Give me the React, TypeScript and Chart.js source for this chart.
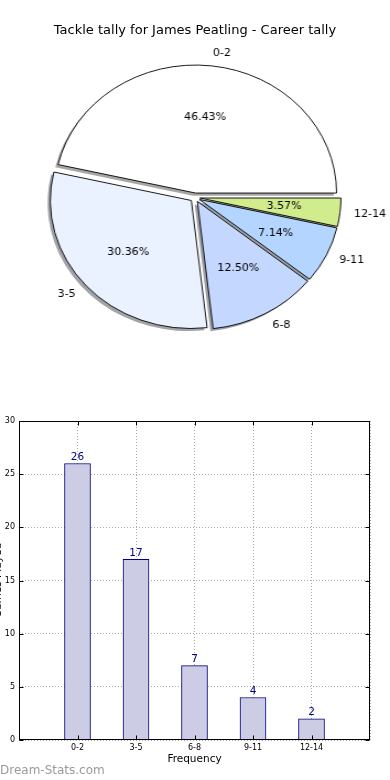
import React, { useEffect, useRef } from 'react';
import { Chart, registerables } from 'chart.js';

Chart.register(...registerables);

// ---- data ----
const categories = ['0-2', '3-5', '6-8', '9-11', '12-14'];
const counts = [26, 17, 7, 4, 2];
const pieColors = ['#ffffff', '#eaf1ff', '#c4d8ff', '#b4d5ff', '#d0ec8c'];
const explode = [0.035, 0.035, 0.035, 0.035, 0.035];
const yTicks = [0, 5, 10, 15, 20, 25, 30];
const chartTitle = 'Tackle tally for James Peatling - Career tally';
const xTitle = 'Frequency';
const yTitle = 'Games Played';
const watermark = 'Dream-Stats.com';

// ---- layout constants ----
const FONT = '"DejaVu Sans", "Liberation Sans", sans-serif';
const PIE_CSS_W = 390;
const PIE_INT_W = 354;
const PIE_H = 360;
const SX = PIE_CSS_W / PIE_INT_W;
const PIE_R = 128;

const rev = <T,>(a: T[]): T[] => a.slice().reverse();

function shadowOf(hex: string): string {
  const n = parseInt(hex.slice(1), 16);
  const r = Math.round(((n >> 16) & 255) * 0.3);
  const g = Math.round(((n >> 8) & 255) * 0.3);
  const b = Math.round((n & 255) * 0.3);
  return `rgba(${r},${g},${b},0.5)`;
}

export default function App() {
  const pieRef = useRef<HTMLCanvasElement | null>(null);
  const barRef = useRef<HTMLCanvasElement | null>(null);

  useEffect(() => {
    const pieLabels = rev(categories);
    const pieData = rev(counts);
    const pieBg = rev(pieColors);
    const pieExplode = rev(explode);
    const total = counts.reduce((a, b) => a + b, 0);

    const piePlugin = {
      id: 'pieExtras',
      afterDatasetsUpdate(chart: any) {
        const meta = chart.getDatasetMeta(0);
        meta.data.forEach((arc: any, i: number) => {
          const mid = (arc.startAngle + arc.endAngle) / 2;
          const d = pieExplode[i] * arc.outerRadius;
          arc.x += Math.cos(mid) * d;
          arc.y += Math.sin(mid) * d;
        });
      },
      beforeDatasetsDraw(chart: any) {
        const ctx = chart.ctx;
        const meta = chart.getDatasetMeta(0);
        ctx.save();
        meta.data.forEach((arc: any, i: number) => {
          const x = arc.x - 2.5;
          const y = arc.y + 2.6;
          ctx.beginPath();
          ctx.moveTo(x, y);
          ctx.arc(x, y, arc.outerRadius, arc.startAngle, arc.endAngle);
          ctx.closePath();
          ctx.fillStyle = shadowOf(pieBg[i]);
          ctx.fill();
        });
        ctx.restore();
      },
      afterDatasetsDraw(chart: any) {
        const ctx = chart.ctx;
        const meta = chart.getDatasetMeta(0);
        const drawText = (t: string, x: number, y: number, align: CanvasTextAlign) => {
          ctx.save();
          ctx.translate(x, y);
          ctx.scale(1 / SX, 1);
          ctx.font = `11px ${FONT}`;
          ctx.fillStyle = '#000';
          ctx.textAlign = align;
          ctx.textBaseline = 'middle';
          ctx.fillText(t, 0, 0);
          ctx.restore();
        };
        meta.data.forEach((arc: any, i: number) => {
          const mid = (arc.startAngle + arc.endAngle) / 2;
          const r = arc.outerRadius;
          const c = Math.cos(mid);
          const s = Math.sin(mid);
          drawText(pieLabels[i], arc.x + 1.1 * r * c, arc.y + 1.1 * r * s, c > 0 ? 'left' : 'right');
          const pct = ((pieData[i] / total) * 100).toFixed(2) + '%';
          drawText(pct, arc.x + 0.6 * r * c, arc.y + 0.6 * r * s, 'center');
        });
      },
    };

    const pie = new Chart(pieRef.current as HTMLCanvasElement, {
      type: 'pie',
      data: {
        labels: pieLabels,
        datasets: [
          {
            data: pieData,
            backgroundColor: pieBg,
            borderColor: '#000',
            borderWidth: 0.9,
            borderJoinStyle: 'miter',
          } as any,
        ],
      },
      options: {
        responsive: false,
        animation: false,
        devicePixelRatio: 1,
        rotation: 90,
        radius: PIE_R,
        layout: { padding: { top: 70, bottom: 35, left: 0, right: 0 } },
        plugins: { legend: { display: false }, tooltip: { enabled: false }, title: { display: false } },
        events: [],
      } as any,
      plugins: [piePlugin],
    });

    const barPlugin = {
      id: 'barExtras',
      afterDatasetsDraw(chart: any) {
        const ctx = chart.ctx;
        const meta = chart.getDatasetMeta(0);
        const vals = chart.data.datasets[0].data;
        ctx.save();
        ctx.font = `10.5px ${FONT}`;
        ctx.fillStyle = '#000080';
        ctx.textAlign = 'center';
        ctx.textBaseline = 'bottom';
        meta.data.forEach((bar: any, i: number) => {
          const v = vals[i];
          if (v === null || v === undefined) return;
          ctx.fillText(String(v), bar.x, bar.y - 1);
        });
        ctx.restore();
      },
      afterDraw(chart: any) {
        const ctx = chart.ctx;
        const ca = chart.chartArea;
        const L = Math.round(ca.left) + 0.5;
        const R = Math.round(ca.right) - 0.5;
        const T = Math.round(ca.top) + 0.5;
        const B = Math.round(ca.bottom) - 0.5;
        ctx.save();
        ctx.strokeStyle = '#000';
        ctx.lineWidth = 1;
        ctx.setLineDash([]);
        const xs = chart.scales.x;
        const ys = chart.scales.y;
        ctx.beginPath();
        chart.data.labels.forEach((lab: string, i: number) => {
          if (!lab) return;
          const x = Math.round(xs.getPixelForTick(i)) + 0.5;
          ctx.moveTo(x, B);
          ctx.lineTo(x, B - 4);
          ctx.moveTo(x, T);
          ctx.lineTo(x, T + 4);
        });
        yTicks.forEach((v) => {
          const y = Math.round(ys.getPixelForValue(v)) + 0.5;
          ctx.moveTo(L, y);
          ctx.lineTo(L + 4, y);
          ctx.moveTo(R, y);
          ctx.lineTo(R - 4, y);
        });
        ctx.stroke();
        ctx.strokeRect(L, T, R - L, B - T);
        // y title (mostly cut off at left edge)
        ctx.font = `10.5px ${FONT}`;
        ctx.fillStyle = '#000';
        ctx.translate(0.5, (ca.top + ca.bottom) / 2);
        ctx.rotate(-Math.PI / 2);
        ctx.textAlign = 'center';
        ctx.textBaseline = 'alphabetic';
        ctx.fillText(yTitle, 0, 0);
        ctx.restore();
      },
    };

    const bar = new Chart(barRef.current as HTMLCanvasElement, {
      type: 'bar',
      data: {
        labels: ['', ...categories, ''],
        datasets: [
          {
            data: [null, ...counts, null],
            backgroundColor: '#ccccE5',
            borderColor: '#000080',
            borderWidth: 1,
            barThickness: 26,
          } as any,
        ],
      },
      options: {
        responsive: false,
        animation: false,
        devicePixelRatio: 1,
        events: [],
        layout: { padding: { top: 21, right: 20, left: 0, bottom: 0 } },
        plugins: { legend: { display: false }, tooltip: { enabled: false }, title: { display: false } },
        scales: {
          x: {
            type: 'category',
            offset: false,
            z: 1,
            grid: { color: '#a9a9a9', lineWidth: 1, drawTicks: false, offset: false },
            border: { display: false, dash: [1, 2] },
            ticks: { font: { family: FONT, size: 8 }, color: '#000', padding: 3, autoSkip: false, maxRotation: 0 },
            title: { display: true, text: xTitle, color: '#000', font: { family: FONT, size: 10.5 }, padding: { top: 0, bottom: 14 } },
            afterFit: (s: any) => {
              s.height = 40;
            },
          },
          y: {
            min: 0,
            max: 30,
            z: 1,
            grid: { color: '#a9a9a9', lineWidth: 1, drawTicks: false },
            border: { display: false, dash: [1, 2] },
            ticks: { stepSize: 5, font: { family: FONT, size: 8 }, color: '#000', padding: 4 },
            afterFit: (s: any) => {
              s.width = 19;
            },
          },
        },
      } as any,
      plugins: [barPlugin],
    });

    return () => {
      pie.destroy();
      bar.destroy();
    };
  }, []);

  return (
    <div style={{ position: 'absolute', left: 0, top: 0, width: 390, height: 780, background: '#fff', overflow: 'hidden' }}>
      <canvas
        ref={pieRef}
        width={PIE_INT_W}
        height={PIE_H}
        style={{ position: 'absolute', left: 0, top: 0, width: `${PIE_CSS_W}px`, height: `${PIE_H}px` }}
      />
      <div
        style={{
          position: 'absolute',
          left: 0,
          top: 22,
          width: 390,
          textAlign: 'center',
          fontFamily: FONT,
          fontSize: 13,
          lineHeight: '16px',
          color: '#000',
        }}
      >
        {chartTitle}
      </div>
      <canvas
        ref={barRef}
        width={390}
        height={380}
        style={{ position: 'absolute', left: 0, top: 400, width: '390px', height: '380px' }}
      />
      <div
        style={{
          position: 'absolute',
          left: 0,
          top: 763,
          fontFamily: FONT,
          fontSize: 12,
          lineHeight: '14px',
          color: '#9a9a9a',
        }}
      >
        {watermark}
      </div>
    </div>
  );
}
